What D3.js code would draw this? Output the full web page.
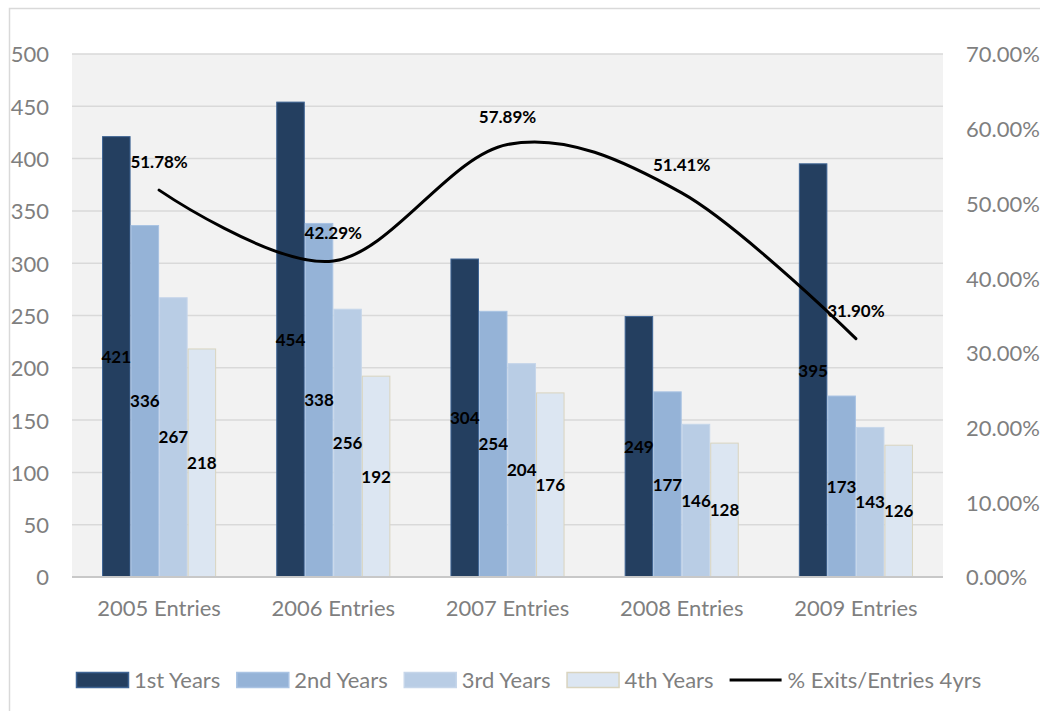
<!DOCTYPE html>
<html>
<head>
<meta charset="utf-8">
<script src="https://cdn.jsdelivr.net/npm/d3@7/dist/d3.min.js"></script>
<style>
  html, body { margin: 0; padding: 0; background: #ffffff; }
  svg { display: block; }
</style>
</head>
<body>
<svg id="chart" width="1040" height="711"></svg>
<script>
// Entry cohorts and how many students remain in each year of study
const categories = ["2005 Entries", "2006 Entries", "2007 Entries", "2008 Entries", "2009 Entries"];
const seriesNames = ["1st Years", "2nd Years", "3rd Years", "4th Years"];
const firstYears  = [421, 454, 304, 249, 395];
const secondYears = [336, 338, 254, 177, 173];
const thirdYears  = [267, 256, 204, 146, 143];
const fourthYears = [218, 192, 176, 128, 126];
// Share of exits relative to entries over four years (percent)
const exitRate = [51.78, 42.29, 57.89, 51.41, 31.90];
const lineName = "% Exits/Entries 4yrs";
const leftTicks = [0, 50, 100, 150, 200, 250, 300, 350, 400, 450, 500];
const rightTicks = [0, 10, 20, 30, 40, 50, 60, 70];

const seriesValues = [firstYears, secondYears, thirdYears, fourthYears];
const fills   = ["#243f60", "#95b3d7", "#b9cde5", "#dce6f2"];
const strokes = ["#3e6494", "#a9c3e3", "#c6d6ea", "#d9d4bf"];

const svg = d3.select("#chart");
const font = "Lato, 'Open Sans', sans-serif";
const plot = { left: 72, right: 943, top: 54, bottom: 577 };

// chart frame (extends past the right and bottom edges)
svg.append("rect")
  .attr("x", 9.5).attr("y", 8.5)
  .attr("width", 1100).attr("height", 800)
  .attr("fill", "none").attr("stroke", "#d9d9d9").attr("stroke-width", 1.5);

// plot background
svg.append("rect")
  .attr("x", plot.left).attr("y", plot.top)
  .attr("width", plot.right - plot.left).attr("height", plot.bottom - plot.top)
  .attr("fill", "#f2f2f2");

const x0 = d3.scaleBand().domain(categories)
  .range([plot.left, plot.right]).paddingInner(0.345).paddingOuter(0.1725);
const x1 = d3.scaleBand().domain(seriesNames).range([0, x0.bandwidth()]).padding(0);
const yL = d3.scaleLinear().domain([0, 500]).range([plot.bottom, plot.top]);
const yR = d3.scaleLinear().domain([0, 70]).range([plot.bottom, plot.top]);

// horizontal gridlines
svg.append("g").selectAll("line").data(leftTicks.filter(d => d > 0)).join("line")
  .attr("x1", plot.left).attr("x2", plot.right)
  .attr("y1", d => yL(d)).attr("y2", d => yL(d))
  .attr("stroke", "#d9d9d9").attr("stroke-width", 1.5);

// left axis labels
const leftAxis = d3.axisLeft(yL).tickValues(leftTicks).tickSize(0).tickPadding(0)
  .tickFormat(d3.format("d"));
svg.append("g").attr("transform", "translate(49,0)").call(leftAxis)
  .call(g => g.select(".domain").remove())
  .call(g => g.selectAll("text").attr("font-family", font).attr("font-size", 22)
    .attr("fill", "#7f7f7f").attr("dy", "0.36em"));

// right axis labels
const rightAxis = d3.axisRight(yR).tickValues(rightTicks).tickSize(0).tickPadding(0)
  .tickFormat(d => d.toFixed(2) + "%");
svg.append("g").attr("transform", "translate(966,0)").call(rightAxis)
  .call(g => g.select(".domain").remove())
  .call(g => g.selectAll("text").attr("font-family", font).attr("font-size", 22)
    .attr("fill", "#7f7f7f").attr("dy", "0.36em"));

// bars
const rows = [];
categories.forEach((c, i) => {
  seriesNames.forEach((s, j) => rows.push({ cat: c, series: s, j, value: seriesValues[j][i] }));
});
svg.append("g").selectAll("rect").data(rows).join("rect")
  .attr("x", d => x0(d.cat) + x1(d.series) + 0.5)
  .attr("y", d => yL(d.value))
  .attr("width", x1.bandwidth() - 1)
  .attr("height", d => yL(0) - yL(d.value))
  .attr("fill", d => fills[d.j])
  .attr("stroke", d => strokes[d.j]).attr("stroke-width", 1);

// baseline
svg.append("line")
  .attr("x1", plot.left).attr("x2", plot.right)
  .attr("y1", yL(0)).attr("y2", yL(0))
  .attr("stroke", "#c8c8c8").attr("stroke-width", 2);

// bar value labels, centred in each bar
svg.append("g").selectAll("text").data(rows).join("text")
  .attr("x", d => x0(d.cat) + x1(d.series) + x1.bandwidth() / 2)
  .attr("y", d => yL(d.value / 2))
  .attr("dy", "0.36em")
  .attr("text-anchor", "middle")
  .attr("font-family", font).attr("font-size", 17).attr("font-weight", 700)
  .attr("fill", "#000")
  .text(d => d.value);

// category labels
svg.append("g").selectAll("text").data(categories).join("text")
  .attr("x", d => x0(d) + x0.bandwidth() / 2)
  .attr("y", 616)
  .attr("text-anchor", "middle")
  .attr("font-family", font).attr("font-size", 22).attr("fill", "#7f7f7f")
  .text(d => d);

// smoothed exit-rate line on the right axis
const pts = exitRate.map((v, i) => ({ x: x0(categories[i]) + x0.bandwidth() / 2, v }));
const line = d3.line().x(d => d.x).y(d => yR(d.v)).curve(d3.curveCatmullRom.alpha(0));
svg.append("path").datum(pts)
  .attr("d", line)
  .attr("fill", "none").attr("stroke", "#000").attr("stroke-width", 3)
  .attr("stroke-linecap", "round");

svg.append("g").selectAll("text").data(pts).join("text")
  .attr("x", d => d.x)
  .attr("y", d => yR(d.v) - 28)
  .attr("dy", "0.36em")
  .attr("text-anchor", "middle")
  .attr("font-family", font).attr("font-size", 17).attr("font-weight", 700)
  .attr("fill", "#000")
  .text(d => d.v.toFixed(2) + "%");

// legend
const legend = svg.append("g");
let lx = 76;
const ly = 680;
const items = seriesNames.map((s, j) => ({ name: s, j, kind: "bar" }))
  .concat([{ name: lineName, kind: "line" }]);
items.forEach(it => {
  if (it.kind === "bar") {
    legend.append("rect")
      .attr("x", lx + 0.5).attr("y", ly - 7.5).attr("width", 52).attr("height", 15)
      .attr("fill", fills[it.j]).attr("stroke", strokes[it.j]).attr("stroke-width", 1.5);
  } else {
    legend.append("line")
      .attr("x1", lx).attr("x2", lx + 52).attr("y1", ly).attr("y2", ly)
      .attr("stroke", "#000").attr("stroke-width", 3);
  }
  const t = legend.append("text")
    .attr("x", lx + 58).attr("y", ly).attr("dy", "0.36em")
    .attr("font-family", font).attr("font-size", 22).attr("fill", "#7f7f7f")
    .text(it.name);
  lx += 58 + t.node().getComputedTextLength() + 16;
});
</script>
</body>
</html>
